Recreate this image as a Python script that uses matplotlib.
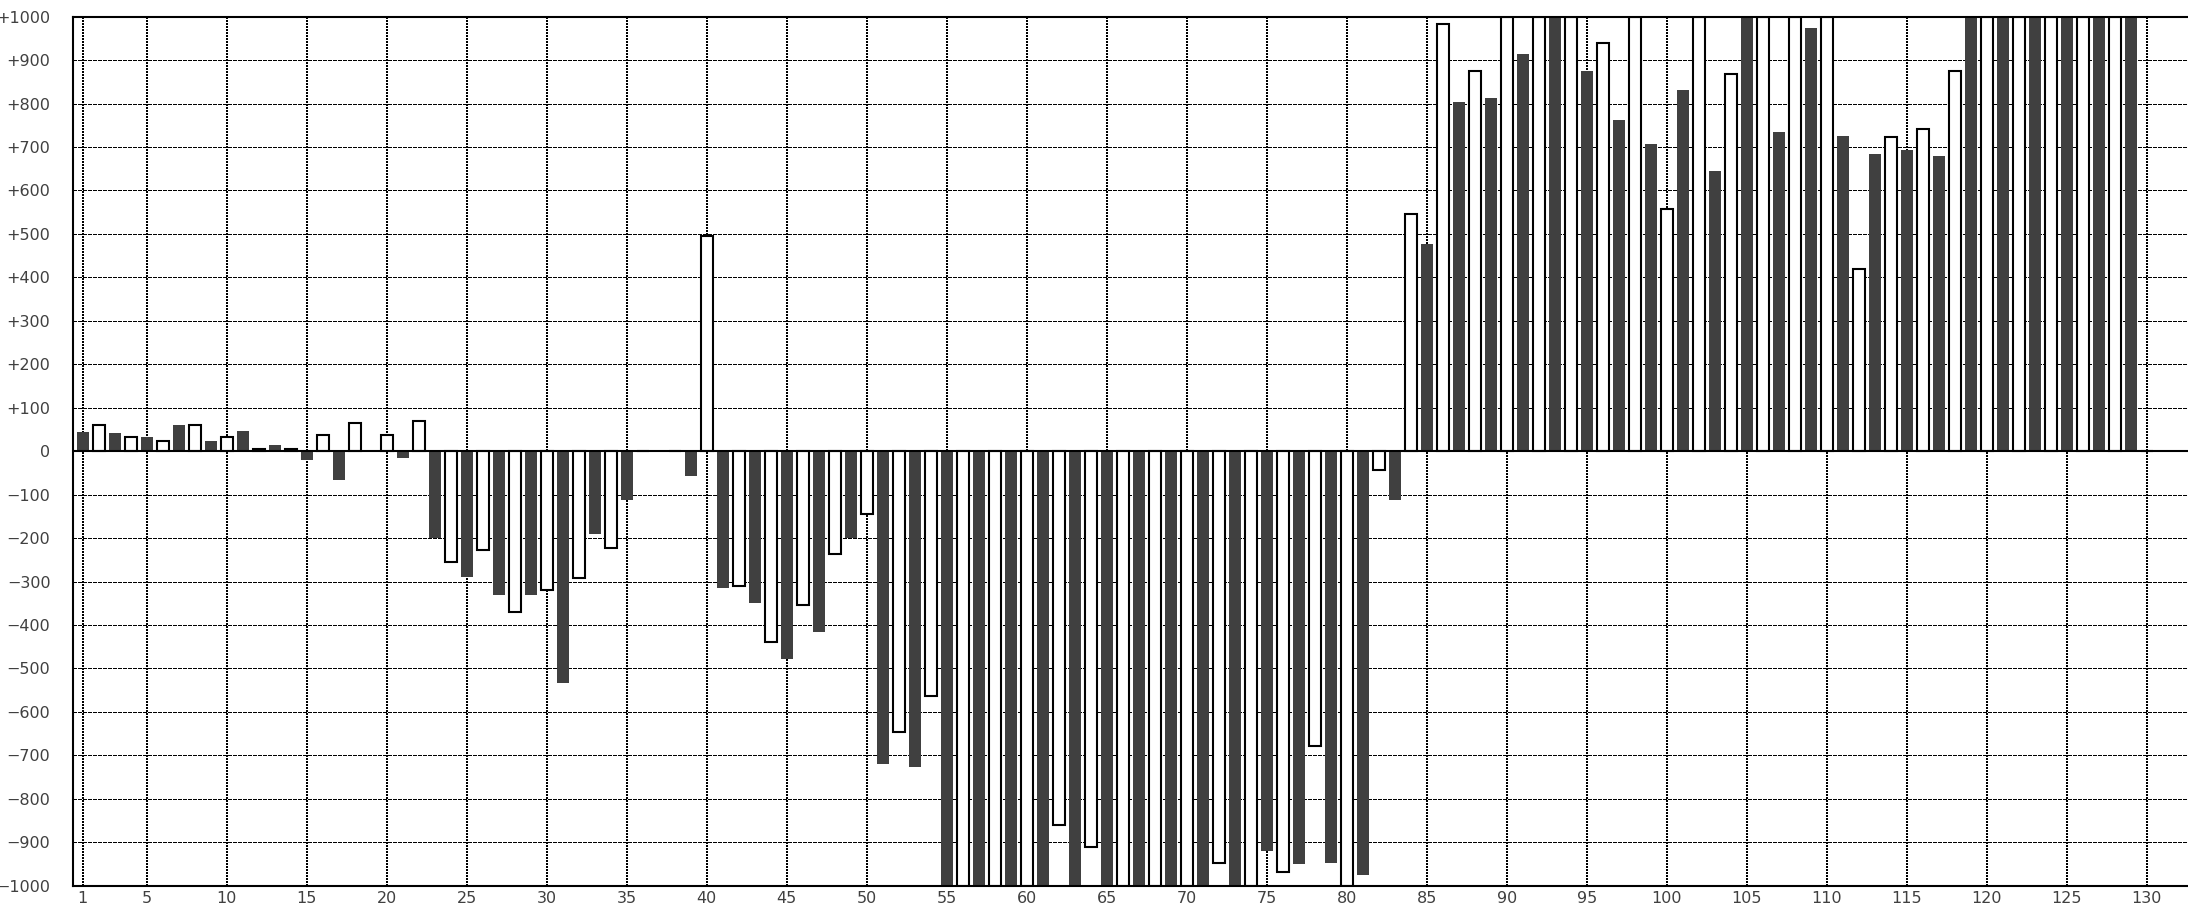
import numpy as np
import matplotlib
matplotlib.use("Agg")
import matplotlib.pyplot as plt

plt.rcParams['lines.scale_dashes'] = False

# Odd positions (dark bars) 1,3,...,129
dark_pos = list(range(1, 130, 2))
dark_vals = [45, 43, 33, 61, 24, 47, 15, -20, -67, 0,
             -16, -200, -290, -330, -330, -534, -191, -112, 0, -57,
             -315, -350, -478, -417, -200, -721, -726, -1000, -1000, -1000,
             -1000, -1000, -1000, -1000, -1000, -1000, -1000, -920, -951, -948,
             -975, -112, 477, 804, 813, 915, 1000, 876, 762, 706,
             832, 646, 1000, 734, 975, 725, 684, 694, 680, 1000,
             1000, 1000, 1000, 1000, 1000]
# Even positions (white bars) 2,4,...,130
white_pos = list(range(2, 131, 2))
white_vals = [60, 32, 23, 60, 32, 5, 5, 37, 64, 37,
              69, -255, -227, -370, -319, -292, -222, 0, 0, 495,
              -310, -439, -355, -236, -144, -646, -563, -1000, -1000, -1000,
              -861, -912, -1000, -1000, -1000, -947, -1000, -968, -678, -1000,
              -43, 547, 983, 876, 1000, 1000, 1000, 940, 1000, 558,
              1000, 867, 1000, 1000, 1000, 419, 724, 742, 876, 1000,
              1000, 1000, 1000, 1000, 0]

xticks = [1] + list(range(5, 131, 5))
yticks = list(range(-1000, 1001, 100))

def ylab(v):
    if v > 0:
        return f"+{v}"
    if v < 0:
        return f"\u2212{abs(v)}"
    return "0"

W, H = 2188, 908
fig = plt.figure(figsize=(W / 100, H / 100), dpi=100)
left_px, right_px = 72.7, 2188
top_px, bot_px = 16.7, 885.7
ax = fig.add_axes([left_px / W, 1 - bot_px / H, (right_px - left_px) / W, (bot_px - top_px) / H])

unit = 16.0
x1_px = 82.7
ax.set_xlim(1 - (x1_px - left_px) / unit, 1 + (right_px - x1_px) / unit)
ax.set_ylim(-1000, 1000)

ax.bar(dark_pos, dark_vals, width=0.73, color='#404040', edgecolor='none', zorder=2)
ax.bar(white_pos, white_vals, width=0.73, color='white', edgecolor='black', linewidth=1.5, zorder=2)

# grid
px = 0.72
for y in yticks:
    if y in (-1000, 0, 1000):
        continue
    ax.axhline(y, color='black', linewidth=px, linestyle=(0, (3 * px, 2 * px)),
               antialiased=False, zorder=1)
for x in xticks:
    ax.axvline(x, color='black', linewidth=2 * px, linestyle=(0, (2 * px, 2 * px)),
               antialiased=False, zorder=1.1)
ax.axhline(0, color='black', linewidth=1.5, zorder=3)

ax.set_xticks(xticks)
ax.set_xticklabels([str(t) for t in xticks])
ax.set_yticks(yticks)
ax.set_yticklabels([ylab(v) for v in yticks])
ax.tick_params(axis='both', length=0, labelsize=11.5, labelcolor='#404040')
ax.tick_params(axis='y', pad=16)
ax.tick_params(axis='x', pad=4)

for s in ['left', 'top', 'bottom']:
    ax.spines[s].set_linewidth(1.5)
    ax.spines[s].set_color('black')
    ax.spines[s].set_zorder(4)
ax.spines['right'].set_visible(False)

fig.savefig('out.png', dpi=100)
